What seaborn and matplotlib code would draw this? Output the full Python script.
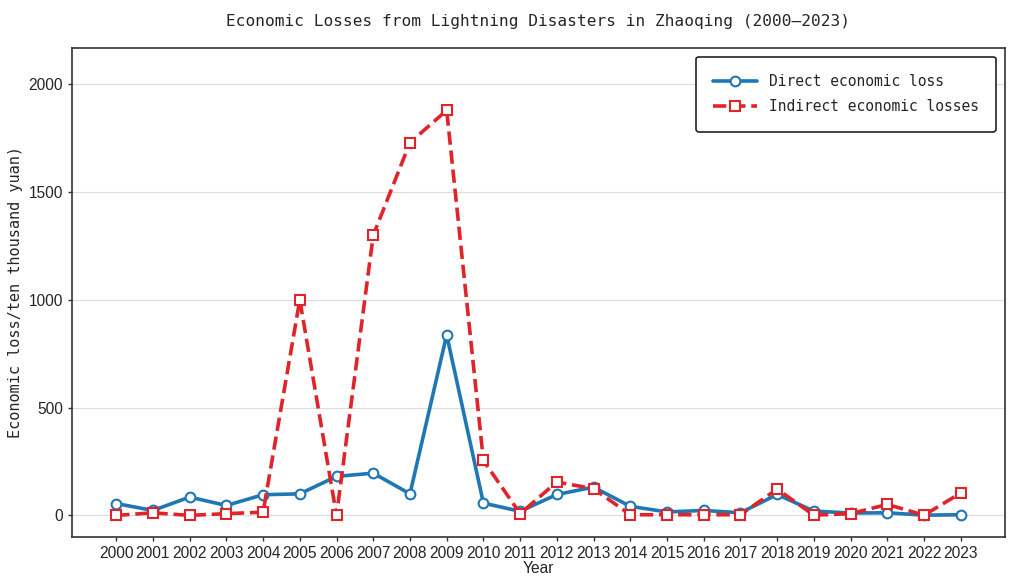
import pandas as pd
import seaborn as sns
import matplotlib.pyplot as plt

# Data (ten thousand yuan)
years = list(range(2000, 2024))
direct_loss = [55, 23, 85, 46, 96, 100, 181, 196, 100, 838, 57, 19,
               97, 131, 42, 16, 23, 12, 97, 20, 11, 12, 1, 3]
indirect_loss = [0, 12, 0, 8, 15, 1000, 0, 1300, 1730, 1880, 255, 8,
                 155, 124, 3, 3, 3, 3, 122, 1, 8, 51, 1, 104]

df = pd.DataFrame({'Year': years, 'Direct': direct_loss, 'Indirect': indirect_loss})
df['pos'] = range(len(years))

sns.set_style('ticks')
mono = ['DejaVu Sans Mono']
plt.rcParams['font.family'] = ['Liberation Sans', 'DejaVu Sans']

fig, ax = plt.subplots(figsize=(10.16, 5.83), dpi=100)

sns.lineplot(data=df, x='pos', y='Direct', ax=ax, color='#1f77b4', linewidth=2.6,
             marker='o', markersize=7, markerfacecolor='white',
             markeredgecolor='#1f77b4', markeredgewidth=1.5,
             label='Direct economic loss')
sns.lineplot(data=df, x='pos', y='Indirect', ax=ax, color='#e0242a', linewidth=2.6,
             linestyle='--', marker='s', markersize=7, markerfacecolor='white',
             markeredgecolor='#e0242a', markeredgewidth=1.5,
             label='Indirect economic losses')

ax.set_xticks(df['pos'])
ax.set_xticklabels([str(y) for y in years], fontsize=11.2)
ax.tick_params(axis='y', labelsize=11.2)
ax.tick_params(axis='both', length=3, color='#333333', width=1)
ax.set_xlim(-1.2, 24.2)
ax.set_ylim(-100, 2170)
ax.set_yticks([0, 500, 1000, 1500, 2000])
ax.grid(axis='y', color='#dddddd', linewidth=0.8)
ax.set_axisbelow(True)
for s in ax.spines.values():
    s.set_color('#333333')
    s.set_linewidth(1.2)

ax.set_xlabel('Year', fontsize=11.2, labelpad=0)
ax.set_ylabel('Economic loss/ten thousand yuan)', fontsize=11, family=mono)
ax.set_title('Economic Losses from Lightning Disasters in Zhaoqing (2000–2023)',
             fontsize=11.6, family=mono, pad=16)

leg = ax.legend(loc='upper right', prop={'family': mono, 'size': 10.5},
                frameon=True, edgecolor='#222222', fancybox=True,
                borderpad=1.2, handlelength=3.0, labelspacing=0.7,
                borderaxespad=0.6)
leg.get_frame().set_linewidth(1.2)
leg.get_frame().set_alpha(1)

fig.subplots_adjust(left=0.071, right=0.989, top=0.918, bottom=0.079)
fig.savefig('out.png', dpi=100)
